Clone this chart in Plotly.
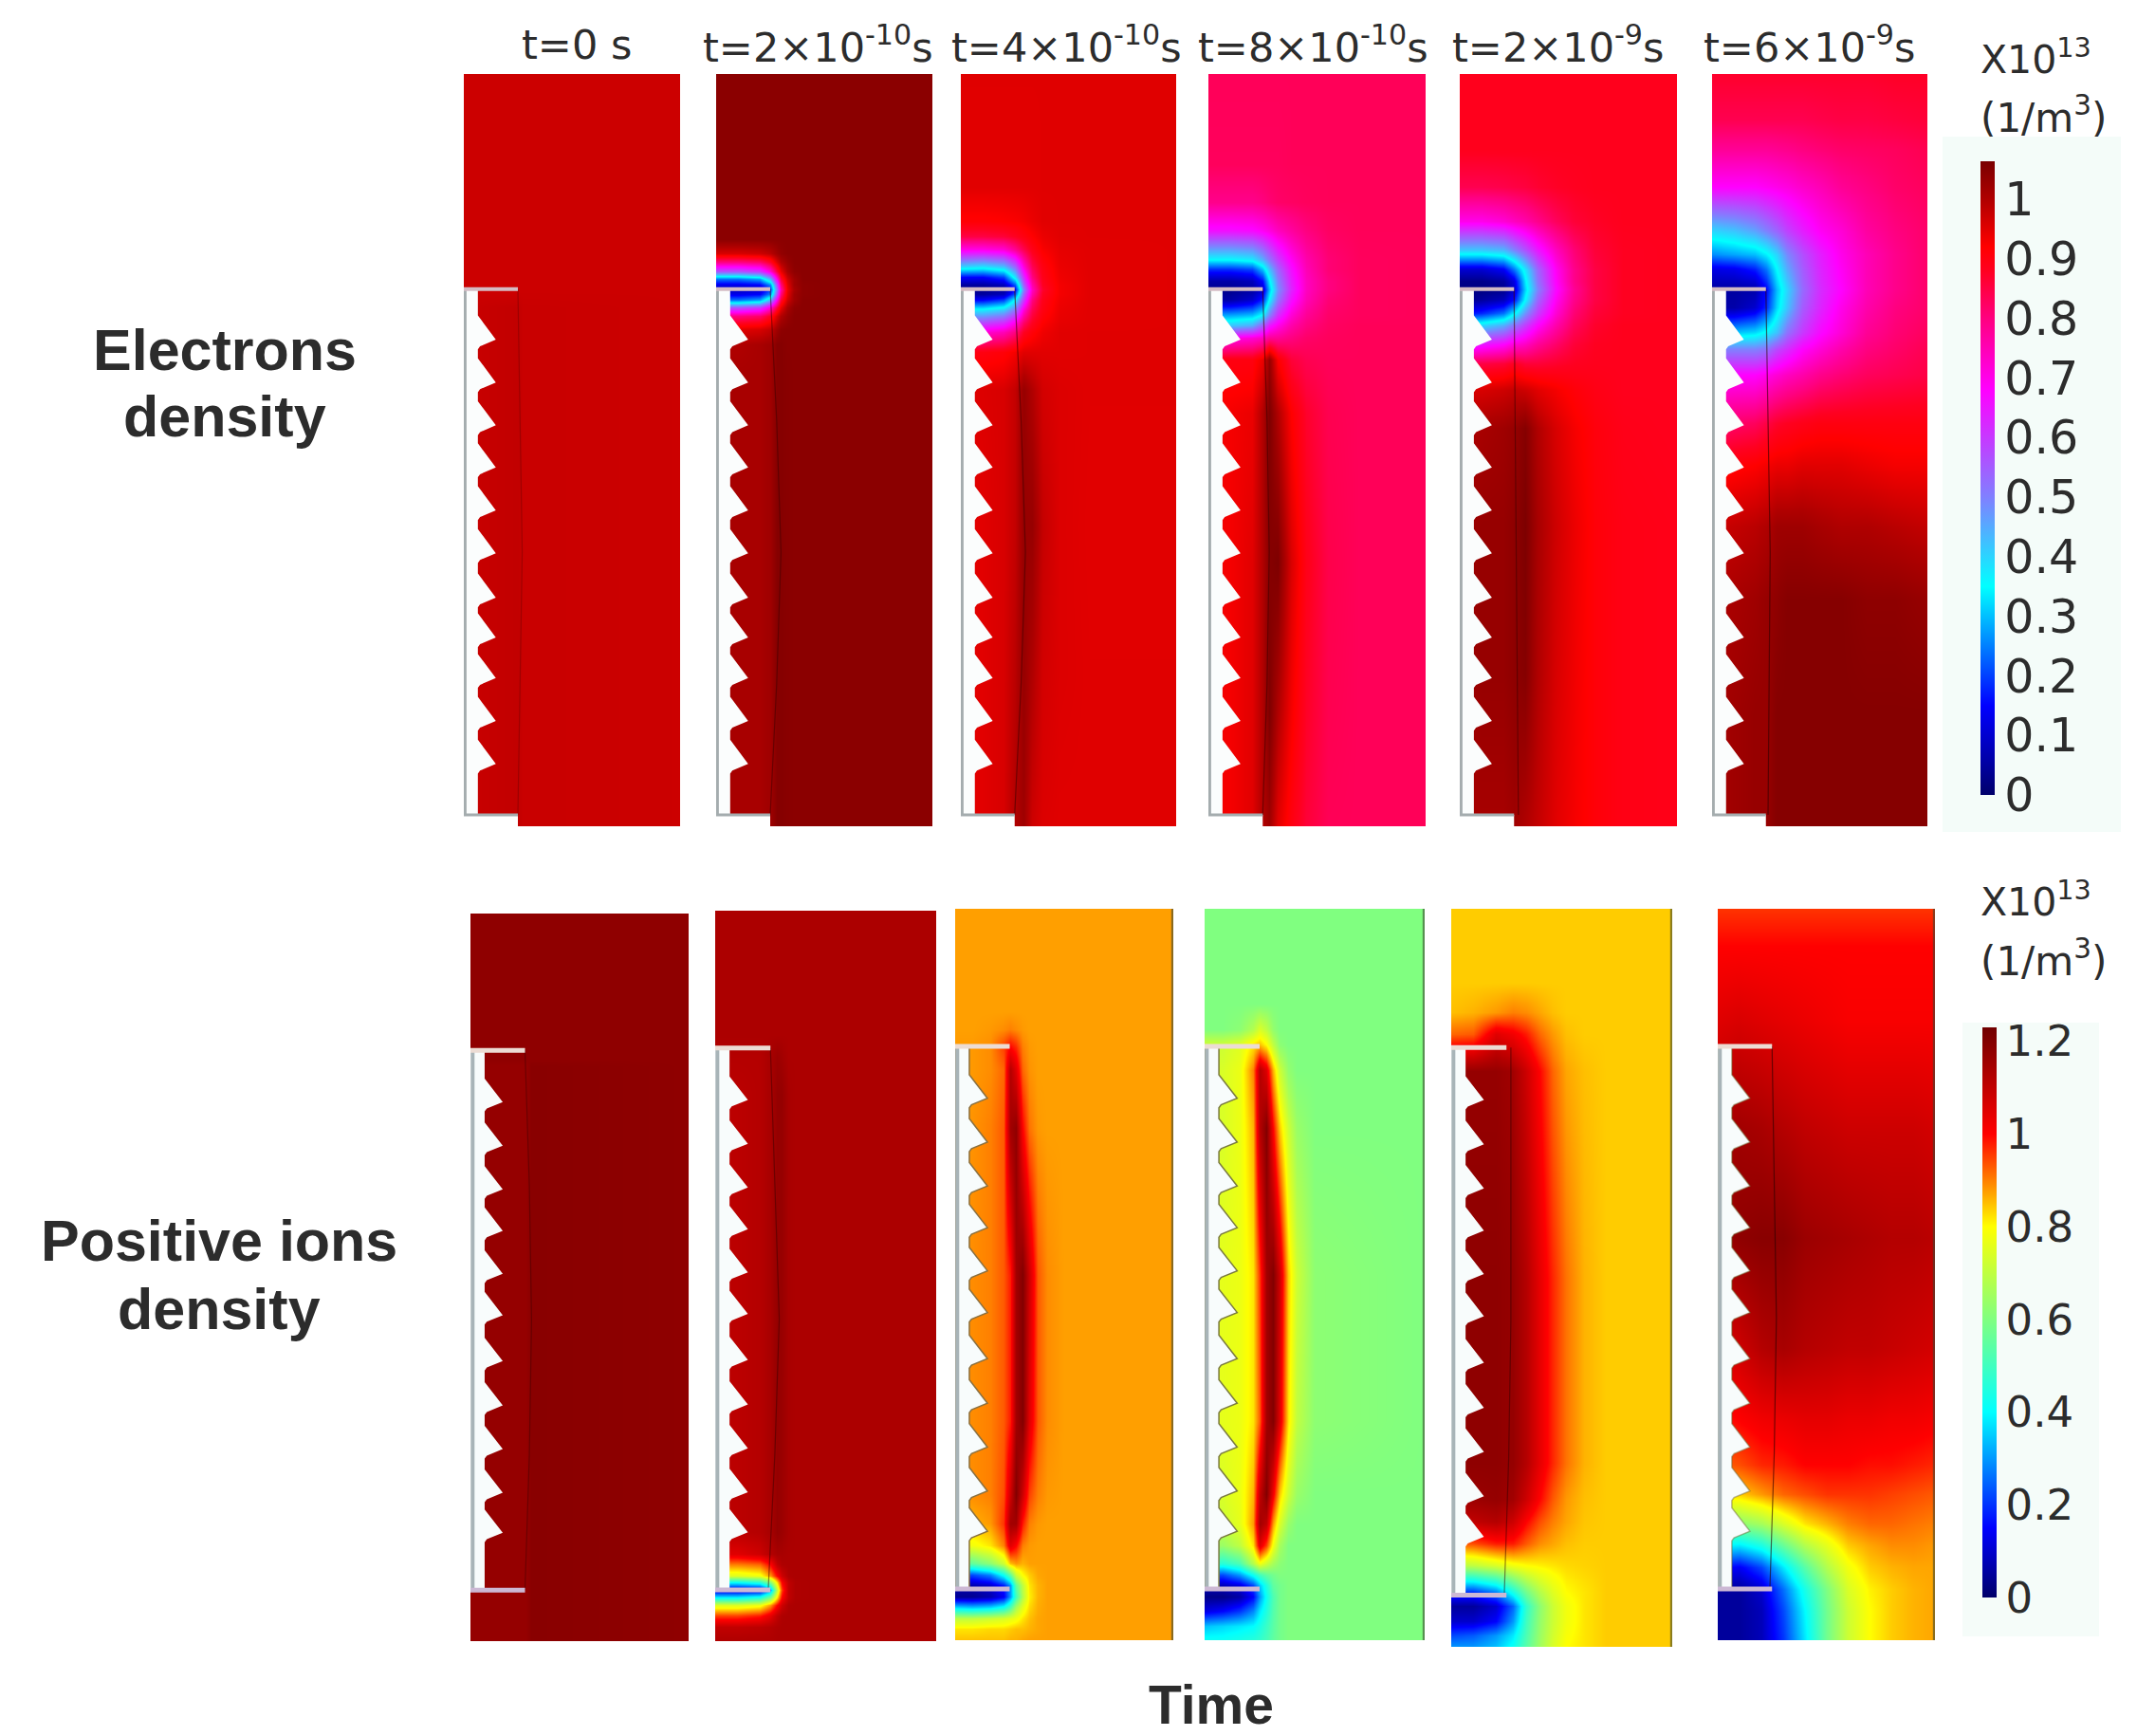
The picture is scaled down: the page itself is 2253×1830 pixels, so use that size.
"""Electron and positive ion density maps along a comb shaped dielectric, six time steps."""

import plotly.graph_objects as go

# Column titles and colour bar ticks
TIME_LABELS = ["t=0 s", "t=2×10<sup>-10</sup>s", "t=4×10<sup>-10</sup>s",
               "t=8×10<sup>-10</sup>s", "t=2×10<sup>-9</sup>s", "t=6×10<sup>-9</sup>s"]
E_TICKS = [0, 0.1, 0.2, 0.3, 0.4, 0.5, 0.6, 0.7, 0.8, 0.9, 1]
E_TICK_TEXT = ["0", "0.1", "0.2", "0.3", "0.4", "0.5", "0.6", "0.7", "0.8", "0.9", "1"]
I_TICKS = [0, 0.2, 0.4, 0.6, 0.8, 1, 1.2]
I_TICK_TEXT = ["0", "0.2", "0.4", "0.6", "0.8", "1", "1.2"]

# Electron density, 1e13 1/m3. x and y are fractions of the panel, y from the top.
E1_X = [0, .25, .27, 1]
E1_Y = [0, .29, .31, 1]
E1_Z = [
    [.972, .972, .972, .972],
    [.972, .972, .972, .972],
    [.975, .982, .975, .972],
    [.975, .982, .975, .972],
]

E2_X = [0, .10, .20, .25, .28, .30, .33, .36, .40, .50, 1]
E2_Y = [0, .22, .238, .25, .262, .272, .28, .286, .292, .30, .31, .322, .339, .36, .40, 1]
E2_Z = [
    [1.044, 1.044, 1.044, 1.044, 1.044, 1.044, 1.044, 1.044, 1.044, 1.044, 1.044],
    [1.044, 1.044, 1.044, 1.044, 1.044, 1.044, 1.044, 1.044, 1.044, 1.044, 1.044],
    [.96, .96, .97, .99, 1.02, 1.035, 1.044, 1.044, 1.044, 1.044, 1.044],
    [.80, .80, .82, .88, .96, 1.0, 1.03, 1.044, 1.044, 1.044, 1.044],
    [.56, .56, .60, .72, .86, .94, 1.01, 1.04, 1.044, 1.044, 1.044],
    [.24, .24, .28, .44, .70, .86, .97, 1.02, 1.044, 1.044, 1.044],
    [.13, .13, .15, .26, .58, .80, .95, 1.02, 1.04, 1.044, 1.044],
    [.08, .08, .10, .20, .52, .76, .94, 1.01, 1.04, 1.044, 1.044],
    [.13, .13, .15, .26, .58, .80, .95, 1.02, 1.04, 1.044, 1.044],
    [.24, .24, .28, .44, .70, .86, .97, 1.02, 1.044, 1.044, 1.044],
    [.56, .56, .60, .72, .86, .94, 1.01, 1.04, 1.044, 1.044, 1.044],
    [.80, .80, .82, .88, .96, 1.0, 1.03, 1.044, 1.044, 1.044, 1.044],
    [.95, .95, .96, .98, 1.02, 1.04, 1.044, 1.044, 1.044, 1.044, 1.044],
    [1.0, 1.0, 1.01, 1.02, 1.05, 1.05, 1.044, 1.044, 1.044, 1.044, 1.044],
    [1.01, 1.01, 1.01, 1.02, 1.05, 1.05, 1.046, 1.044, 1.044, 1.044, 1.044],
    [1.01, 1.01, 1.01, 1.02, 1.05, 1.05, 1.046, 1.044, 1.044, 1.044, 1.044],
]

E3_X = [0, .10, .20, .25, .29, .33, .38, .46, .60, 1]
E3_Y = [0, .15, .195, .215, .233, .255, .27, .28, .286, .292, .30, .314, .33, .343, .37, .42, .6, .8, 1]
E3_Z = [
    [.951, .951, .951, .951, .951, .951, .951, .951, .951, .951],
    [.95, .95, .95, .95, .95, .95, .951, .951, .951, .951],
    [.915, .915, .92, .925, .93, .94, .95, .951, .951, .951],
    [.85, .85, .86, .88, .90, .92, .94, .95, .951, .951],
    [.70, .70, .72, .78, .84, .89, .925, .945, .95, .951],
    [.42, .40, .44, .55, .72, .84, .90, .94, .95, .951],
    [.15, .15, .20, .38, .62, .80, .89, .935, .95, .951],
    [.05, .05, .08, .22, .55, .76, .88, .93, .95, .951],
    [.03, .03, .04, .15, .50, .74, .87, .93, .95, .951],
    [.05, .05, .08, .22, .55, .76, .88, .93, .95, .951],
    [.15, .15, .20, .36, .60, .80, .89, .935, .95, .951],
    [.38, .38, .42, .52, .72, .84, .90, .94, .95, .951],
    [.58, .58, .62, .70, .82, .88, .92, .945, .95, .951],
    [.72, .72, .75, .80, .88, .91, .935, .95, .951, .951],
    [.90, .90, .91, .93, .95, .95, .95, .95, .951, .951],
    [.95, .955, .96, .98, 1.03, 1.0, .965, .955, .951, .951],
    [.945, .95, .96, .98, 1.03, 1.03, .98, .955, .95, .95],
    [.945, .95, .96, .99, 1.03, 1.0, .965, .955, .951, .951],
    [.945, .95, .96, 1.0, 1.02, .97, .955, .951, .951, .951],
]

E4_X = [0, .10, .20, .25, .28, .32, .38, .45, .55, .7, 1]
E4_Y = [0, .12, .17, .208, .246, .26, .275, .286, .30, .32, .334, .35, .38, .45, .65, .85, 1]
E4_Z = [
    [.833, .833, .833, .833, .833, .833, .833, .833, .833, .833, .833],
    [.83, .83, .83, .83, .83, .83, .833, .833, .833, .833, .833],
    [.79, .79, .79, .80, .81, .82, .825, .83, .833, .833, .833],
    [.66, .66, .67, .69, .71, .74, .77, .80, .825, .833, .833],
    [.36, .36, .38, .45, .52, .60, .69, .76, .81, .83, .833],
    [.18, .18, .20, .30, .42, .54, .66, .75, .81, .83, .833],
    [.06, .06, .08, .16, .34, .50, .64, .74, .80, .83, .833],
    [.03, .03, .05, .10, .30, .48, .63, .74, .80, .83, .833],
    [.06, .06, .10, .18, .36, .52, .66, .75, .81, .83, .833],
    [.28, .28, .30, .36, .50, .62, .72, .78, .82, .83, .833],
    [.42, .42, .45, .55, .65, .70, .76, .80, .825, .833, .833],
    [.66, .70, .72, .74, .78, .78, .80, .82, .83, .833, .833],
    [.90, .90, .90, .94, 1.03, .92, .86, .84, .833, .833, .833],
    [.93, .93, .94, 1.0, 1.06, 1.0, .92, .87, .84, .833, .833],
    [.93, .93, .95, 1.0, 1.05, 1.06, .96, .89, .845, .833, .833],
    [.93, .93, .95, 1.0, 1.06, 1.0, .93, .875, .84, .833, .833],
    [.93, .93, .95, 1.0, 1.02, .95, .90, .86, .835, .833, .833],
]

E5_X = [0, .10, .20, .25, .30, .36, .44, .525, .62, .75, 1]
E5_Y = [0, .10, .15, .195, .233, .26, .275, .286, .30, .318, .334, .36, .385, .42, .47, .6, .8, 1]
E5_Z = [
    [.885, .885, .885, .885, .885, .885, .885, .885, .885, .885, .885],
    [.885, .885, .885, .885, .885, .885, .885, .885, .885, .885, .885],
    [.84, .84, .845, .85, .855, .865, .875, .88, .885, .885, .885],
    [.70, .70, .72, .74, .76, .79, .83, .86, .875, .885, .885],
    [.42, .42, .44, .50, .57, .65, .74, .81, .86, .88, .885],
    [.10, .10, .14, .24, .38, .54, .69, .79, .85, .88, .885],
    [.03, .03, .05, .12, .34, .52, .68, .79, .85, .88, .885],
    [.02, .02, .03, .10, .32, .50, .67, .78, .85, .88, .885],
    [.03, .05, .08, .16, .36, .54, .69, .79, .85, .88, .885],
    [.15, .18, .24, .34, .48, .60, .72, .81, .86, .88, .885],
    [.38, .40, .45, .52, .60, .68, .76, .83, .87, .885, .885],
    [.62, .65, .68, .72, .74, .78, .82, .86, .88, .885, .885],
    [.85, .85, .86, .88, .86, .86, .87, .88, .885, .885, .885],
    [.96, .96, .97, .98, .97, .95, .93, .91, .895, .885, .885],
    [1.0, 1.01, 1.02, 1.03, 1.05, 1.0, .96, .93, .905, .89, .885],
    [1.02, 1.03, 1.03, 1.04, 1.06, 1.01, .97, .94, .91, .895, .89],
    [1.02, 1.03, 1.03, 1.04, 1.05, 1.0, .96, .935, .91, .895, .89],
    [1.01, 1.01, 1.01, 1.02, 1.0, .98, .95, .93, .91, .895, .89],
]

E6_X = [0, .10, .20, .25, .30, .35, .42, .50, .60, .72, .85, 1]
E6_Y = [0, .06, .10, .15, .208, .24, .26, .286, .31, .343, .366, .40, .464, .52, .60, .70, .85, 1]
E6_Z = [
    [.87, .87, .87, .87, .87, .87, .87, .87, .87, .87, .875, .875],
    [.84, .84, .84, .84, .84, .84, .84, .845, .85, .85, .855, .86],
    [.78, .78, .78, .78, .785, .79, .80, .81, .82, .825, .83, .84],
    [.68, .68, .68, .69, .70, .71, .73, .75, .78, .80, .82, .83],
    [.40, .42, .46, .50, .54, .59, .64, .69, .72, .77, .80, .82],
    [.26, .28, .30, .34, .40, .49, .57, .64, .70, .75, .79, .82],
    [.12, .13, .17, .24, .35, .45, .55, .63, .69, .75, .79, .82],
    [.05, .05, .06, .15, .30, .40, .53, .62, .68, .75, .79, .82],
    [.06, .06, .10, .18, .32, .42, .55, .63, .70, .76, .80, .82],
    [.30, .30, .32, .36, .42, .52, .60, .67, .72, .78, .81, .83],
    [.50, .50, .50, .52, .58, .62, .68, .72, .76, .80, .82, .84],
    [.68, .68, .68, .70, .72, .74, .76, .79, .81, .83, .84, .85],
    [.80, .82, .83, .85, .87, .88, .89, .90, .90, .90, .90, .90],
    [.90, .91, .92, .93, .94, .94, .95, .95, .95, .94, .93, .93],
    [.97, .98, .99, 1.0, 1.02, 1.02, 1.02, 1.01, 1.0, 1.0, .99, .98],
    [1.0, 1.01, 1.02, 1.03, 1.04, 1.05, 1.05, 1.05, 1.05, 1.04, 1.04, 1.03],
    [1.01, 1.02, 1.03, 1.03, 1.05, 1.05, 1.05, 1.05, 1.05, 1.05, 1.05, 1.05],
    [1.01, 1.02, 1.03, 1.03, 1.05, 1.05, 1.05, 1.05, 1.05, 1.05, 1.05, 1.05],
]

# Positive ion density, 1e13 1/m3
I1_X = [0, .25, .28, 1]
I1_Y = [0, .2, .21, 1]
I1_Z = [
    [1.18, 1.18, 1.18, 1.18],
    [1.18, 1.18, 1.18, 1.18],
    [1.17, 1.17, 1.19, 1.18],
    [1.17, 1.17, 1.19, 1.18],
]

I2_X = [0, .10, .20, .25, .28, .30, .33, .36, .45, 1]
I2_Y = [0, .17, .20, .25, .85, .88, .895, .91, .92, .93, .94, .95, .965, .98, 1]
I2_Z = [
    [1.134, 1.134, 1.134, 1.134, 1.134, 1.134, 1.134, 1.134, 1.134, 1.134],
    [1.134, 1.134, 1.134, 1.134, 1.134, 1.134, 1.134, 1.134, 1.134, 1.134],
    [1.12, 1.12, 1.12, 1.14, 1.16, 1.15, 1.134, 1.134, 1.134, 1.134],
    [1.11, 1.11, 1.12, 1.14, 1.17, 1.17, 1.14, 1.134, 1.134, 1.134],
    [1.11, 1.11, 1.12, 1.14, 1.17, 1.16, 1.14, 1.134, 1.134, 1.134],
    [1.05, 1.05, 1.08, 1.12, 1.14, 1.14, 1.134, 1.134, 1.134, 1.134],
    [.90, .90, .92, 1.0, 1.10, 1.13, 1.134, 1.134, 1.134, 1.134],
    [.75, .75, .78, .88, 1.0, 1.08, 1.13, 1.134, 1.134, 1.134],
    [.40, .40, .45, .60, .82, 1.0, 1.10, 1.13, 1.134, 1.134],
    [.10, .10, .12, .30, .70, .95, 1.10, 1.13, 1.134, 1.134],
    [.40, .40, .45, .60, .82, 1.0, 1.10, 1.13, 1.134, 1.134],
    [.75, .75, .78, .88, 1.0, 1.08, 1.13, 1.134, 1.134, 1.134],
    [.95, .95, .98, 1.04, 1.10, 1.13, 1.134, 1.134, 1.134, 1.134],
    [1.10, 1.10, 1.11, 1.12, 1.13, 1.134, 1.134, 1.134, 1.134, 1.134],
    [1.13, 1.13, 1.13, 1.13, 1.134, 1.134, 1.134, 1.134, 1.134, 1.134],
]

I3_X = [0, .08, .16, .22, .25, .28, .31, .34, .38, .42, .50, 1]
I3_Y = [0, .14, .165, .19, .22, .30, .50, .70, .80, .84, .87, .895, .91, .925, .94, .955, .97, .985, 1]
I3_Z = [
    [.875, .875, .875, .875, .875, .875, .875, .875, .875, .875, .875, .875],
    [.875, .875, .875, .875, .875, .875, .875, .875, .875, .875, .875, .875],
    [.875, .875, .88, .89, .90, .89, .88, .875, .875, .875, .875, .875],
    [.88, .88, .89, .95, 1.0, .97, .90, .88, .875, .875, .875, .875],
    [.88, .88, .89, .92, 1.12, 1.05, .92, .885, .875, .875, .875, .875],
    [.88, .885, .90, .93, 1.15, 1.18, 1.0, .91, .88, .875, .875, .875],
    [.89, .89, .90, .93, .98, 1.15, 1.2, 1.08, .93, .89, .875, .875],
    [.89, .89, .90, .93, .98, 1.15, 1.2, 1.05, .93, .89, .875, .875],
    [.89, .89, .90, .94, 1.08, 1.2, 1.08, .95, .90, .88, .875, .875],
    [.86, .86, .88, .96, 1.15, 1.15, .98, .90, .88, .875, .875, .875],
    [.78, .78, .82, .90, 1.05, 1.0, .90, .88, .875, .875, .875, .875],
    [.55, .55, .62, .72, .85, .88, .86, .875, .875, .875, .875, .875],
    [.22, .22, .28, .42, .55, .72, .80, .84, .87, .875, .875, .875],
    [.07, .07, .10, .18, .30, .55, .70, .82, .86, .875, .875, .875],
    [.04, .04, .07, .14, .30, .50, .68, .81, .86, .875, .875, .875],
    [.36, .34, .36, .42, .52, .66, .76, .83, .865, .875, .875, .875],
    [.70, .70, .72, .74, .76, .78, .82, .85, .87, .875, .875, .875],
    [.82, .82, .83, .83, .84, .85, .85, .86, .87, .875, .875, .875],
    [.85, .85, .85, .85, .86, .86, .87, .875, .875, .875, .875, .875],
]

I4_X = [0, .08, .16, .22, .25, .28, .31, .34, .38, .42, .50, 1]
I4_Y = [0, .13, .165, .185, .22, .30, .50, .70, .80, .84, .87, .895, .91, .925, .94, .96, .98, 1]
I4_Z = [
    [.6, .6, .6, .6, .6, .6, .6, .6, .6, .6, .6, .6],
    [.6, .6, .6, .6, .6, .6, .6, .6, .6, .6, .6, .6],
    [.6, .6, .62, .68, .74, .70, .63, .6, .6, .6, .6, .6],
    [.72, .72, .75, .82, .85, .80, .70, .62, .6, .6, .6, .6],
    [.74, .74, .77, .90, 1.12, 1.05, .86, .72, .63, .6, .6, .6],
    [.74, .74, .77, .86, 1.12, 1.2, 1.0, .84, .72, .64, .6, .6],
    [.76, .76, .77, .82, .96, 1.15, 1.2, 1.08, .84, .72, .62, .6],
    [.76, .76, .77, .82, .93, 1.15, 1.2, 1.05, .82, .70, .62, .6],
    [.74, .74, .77, .86, 1.1, 1.2, 1.02, .84, .72, .64, .6, .6],
    [.72, .72, .76, .88, 1.15, 1.1, .88, .74, .64, .6, .6, .6],
    [.66, .64, .70, .82, 1.05, .95, .78, .66, .6, .6, .6, .6],
    [.50, .46, .52, .68, .78, .72, .66, .62, .6, .6, .6, .6],
    [.22, .22, .30, .42, .50, .55, .58, .6, .6, .6, .6, .6],
    [.08, .08, .12, .22, .35, .45, .55, .58, .6, .6, .6, .6],
    [.03, .03, .06, .15, .30, .42, .52, .58, .6, .6, .6, .6],
    [.12, .15, .20, .28, .38, .45, .53, .58, .6, .6, .6, .6],
    [.34, .36, .38, .40, .44, .49, .54, .58, .6, .6, .6, .6],
    [.42, .42, .44, .46, .48, .51, .55, .58, .6, .6, .6, .6],
]

I5_X = [0, .10, .20, .28, .34, .40, .46, .52, .60, .70, 1]
I5_Y = [0, .10, .14, .17, .22, .50, .75, .80, .83, .86, .89, .925, .945, .965, .985, 1]
I5_Z = [
    [.84, .84, .84, .84, .84, .84, .84, .84, .84, .84, .84],
    [.84, .84, .84, .84, .84, .84, .84, .84, .84, .84, .84],
    [.85, .86, .88, .90, .89, .87, .85, .84, .84, .84, .84],
    [.92, .93, 1.05, 1.02, .98, .92, .88, .85, .84, .84, .84],
    [1.17, 1.17, 1.17, 1.15, 1.08, 1.0, .92, .87, .85, .84, .84],
    [1.18, 1.18, 1.18, 1.17, 1.12, 1.04, .97, .91, .86, .84, .84],
    [1.18, 1.18, 1.18, 1.17, 1.12, 1.04, .97, .91, .86, .84, .84],
    [1.16, 1.16, 1.17, 1.15, 1.08, 1.0, .93, .88, .85, .84, .84],
    [1.08, 1.1, 1.12, 1.08, 1.0, .94, .90, .87, .845, .84, .84],
    [.92, .94, .98, .98, .93, .89, .87, .85, .84, .84, .84],
    [.68, .70, .74, .78, .80, .81, .82, .83, .835, .84, .84],
    [.20, .20, .28, .44, .58, .68, .75, .80, .82, .84, .84],
    [.05, .05, .10, .25, .48, .62, .72, .78, .82, .84, .84],
    [.10, .10, .15, .30, .50, .63, .72, .78, .82, .84, .84],
    [.22, .24, .30, .38, .52, .64, .73, .79, .82, .84, .84],
    [.30, .30, .34, .42, .54, .65, .74, .80, .82, .84, .84],
]

I6_X = [0, .1, .2, .3, .4, .5, .6, .7, .8, .9, 1]
I6_Y = [0, .05, .15, .3, .45, .6, .7, .76, .8, .84, .87, .9, .93, .96, 1]
I6_Z = [
    [.96, .96, .96, .96, .96, .96, .96, .96, .96, .96, .96],
    [1.0, 1.0, 1.0, 1.0, 1.0, 1.0, 1.0, 1.0, 1.0, 1.0, 1.0],
    [1.05, 1.06, 1.05, 1.04, 1.03, 1.02, 1.01, 1.01, 1.01, 1.01, 1.01],
    [1.13, 1.15, 1.14, 1.12, 1.10, 1.09, 1.08, 1.08, 1.08, 1.08, 1.07],
    [1.15, 1.18, 1.19, 1.19, 1.16, 1.15, 1.14, 1.13, 1.12, 1.12, 1.11],
    [1.06, 1.08, 1.12, 1.14, 1.12, 1.11, 1.10, 1.10, 1.09, 1.08, 1.07],
    [.98, 1.0, 1.02, 1.03, 1.04, 1.04, 1.03, 1.03, 1.02, 1.02, 1.01],
    [.92, .94, .97, .98, 1.0, 1.0, 1.0, .99, .99, .98, .97],
    [.82, .84, .88, .92, .94, .96, .96, .96, .95, .94, .93],
    [.62, .62, .66, .74, .82, .86, .90, .92, .92, .91, .90],
    [.40, .38, .44, .56, .68, .76, .84, .87, .89, .89, .88],
    [.16, .14, .22, .38, .54, .68, .78, .84, .86, .87, .87],
    [.05, .05, .10, .26, .44, .60, .74, .81, .84, .86, .87],
    [.05, .05, .08, .22, .40, .58, .72, .80, .84, .86, .87],
    [.05, .05, .08, .20, .38, .58, .72, .80, .84, .86, .87],
]

# Comb geometry, panel fractions
E_TIPS = [.353, .410, .467, .523, .580, .637, .696, .749, .803, .860, .917]
E_ELECTRODE = .286
E_FLOOR = .985
I_TIPS = [.259, .319, .379, .436, .495, .552, .615, .676, .736, .796, .851]
I_ELECTRODE_TOP = .188
I_ELECTRODE_BOTTOM = .93

# Thin barrier line, x at each of the heights in LINE_FRAC
LINE_FRAC = [0, .25, .5, .75, 1]
E_LINES = [
    [.25, .26, .27, .26, .25],
    [.25, .28, .30, .28, .25],
    [.25, .28, .30, .28, .25],
    [.25, .27, .28, .27, .25],
    [.25, .255, .26, .265, .27],
    [.25, .26, .27, .265, .26],
]
I_LINES = [
    [.25, .27, .28, .27, .25],
    [.25, .27, .29, .27, .24],
    [.25, .28, .30, .28, .25],
    [.25, .29, .30, .29, .25],
    [.27, .27, .27, .26, .24],
    [.25, .26, .27, .26, .24],
]
E_LINE_COLORS = ["rgba(90,0,0,.35)", "rgba(60,0,0,.5)", "rgba(70,0,0,.6)",
                 "rgba(70,0,0,.6)", "rgba(70,0,0,.6)", "rgba(50,0,0,.6)"]
I_LINE_COLORS = ["rgba(60,0,0,.45)", "rgba(60,0,0,.5)", "rgba(0,0,0,0)",
                 "rgba(0,0,0,0)", "rgba(50,0,0,.5)", "rgba(40,0,0,.6)"]

# Panel rectangles in page pixels
E_LEFT = [489, 755, 1013, 1274, 1539, 1805]
E_RIGHT = [717, 983, 1240, 1503, 1768, 2032]
E_TOP = [78, 78, 78, 78, 78, 78]
E_BOTTOM = [871, 871, 871, 871, 871, 871]
I_LEFT = [496, 754, 1007, 1270, 1530, 1811]
I_RIGHT = [726, 987, 1237, 1502, 1763, 2040]
I_TOP = [963, 960, 958, 958, 958, 958]
I_BOTTOM = [1730, 1730, 1729, 1729, 1736, 1729]
I_COMB_EDGE = ["rgba(0,0,0,0)", "rgba(0,0,0,0)", "#8a7040", "#7a7a40", "rgba(0,0,0,0)", "rgba(120,110,60,.5)"]

E_COLORSCALE_STOPS = [
    (0, "#00006a"), (.05, "#0000a0"), (.15, "#0000ff"), (.35, "#00ffff"), (.5, "#8080ff"),
    (.68, "#ff00ff"), (.8, "#ff0080"), (.88, "#ff0020"), (.92, "#ff0000"), (1.0, "#b00000"), (1.064, "#7a0000"),
]
I_COLORSCALE_STOPS = [
    (0, "#00006a"), (.15, "#0000ff"), (.4, "#00ffff"), (.6, "#80ff80"), (.8, "#ffff00"),
    (1.0, "#ff0000"), (1.23, "#700000"),
]
E_MAX = 1.064
I_MAX = 1.23

PAGE_W = 2237
PAGE_H = 1822
OFFSET = 8
TEXT_COLOR = "#2c2c2c"


def px(x):
    return (x - OFFSET) / PAGE_W


def py(y):
    return 1 - (y - OFFSET) / PAGE_H


def comb_outline(tips, top, bottom):
    xs, ys = [0, .065], [top, top]
    for tip in tips:
        xs += [.065, .148, .075, .065]
        ys += [tip - .032, tip, tip + .009, tip + .013]
    xs += [.065, 0, 0]
    ys += [bottom, bottom, top]
    return xs, ys


fig = go.Figure()
layout_axes = {}


def add_panel(n, left, right, top, bottom, x, y, z, coloraxis):
    suffix = "" if n == 1 else str(n)
    layout_axes["xaxis" + suffix] = dict(domain=[px(left), px(right)], range=[0, 1], visible=False,
                                         anchor="y" + suffix, fixedrange=True)
    layout_axes["yaxis" + suffix] = dict(domain=[py(bottom), py(top)], range=[1, 0], visible=False,
                                         anchor="x" + suffix, fixedrange=True)
    fig.add_trace(go.Heatmap(x=x, y=y, z=z, coloraxis=coloraxis, zsmooth="best", hoverinfo="skip",
                             xaxis="x" + suffix, yaxis="y" + suffix))
    return suffix


def add_line(suffix, x, y, color, width):
    fig.add_trace(go.Scatter(x=x, y=y, mode="lines", line=dict(color=color, width=width), hoverinfo="skip",
                             showlegend=False, xaxis="x" + suffix, yaxis="y" + suffix))


E_PANELS = [(E1_X, E1_Y, E1_Z), (E2_X, E2_Y, E2_Z), (E3_X, E3_Y, E3_Z),
            (E4_X, E4_Y, E4_Z), (E5_X, E5_Y, E5_Z), (E6_X, E6_Y, E6_Z)]
I_PANELS = [(I1_X, I1_Y, I1_Z), (I2_X, I2_Y, I2_Z), (I3_X, I3_Y, I3_Z),
            (I4_X, I4_Y, I4_Z), (I5_X, I5_Y, I5_Z), (I6_X, I6_Y, I6_Z)]

# top row
for i, (x, y, z) in enumerate(E_PANELS):
    s = add_panel(i + 1, E_LEFT[i], E_RIGHT[i], E_TOP[i], E_BOTTOM[i], x, y, z, "coloraxis")
    line_y = [E_ELECTRODE + f * (E_FLOOR - E_ELECTRODE) for f in LINE_FRAC]
    add_line(s, E_LINES[i], line_y, E_LINE_COLORS[i], 1.2)
    cx, cy = comb_outline(E_TIPS, E_ELECTRODE, E_FLOOR)
    fig.add_trace(go.Scatter(x=cx, y=cy, mode="lines", fill="toself", fillcolor="#fbfdfd",
                             line=dict(color="rgba(0,0,0,0)", width=0), hoverinfo="skip", showlegend=False,
                             xaxis="x" + s, yaxis="y" + s))
    # white step under the structure
    fig.add_trace(go.Scatter(x=[0, .25, .25, 0, 0], y=[E_FLOOR, E_FLOOR, 1, 1, E_FLOOR], mode="lines", fill="toself",
                             fillcolor="#ffffff", line=dict(color="rgba(0,0,0,0)", width=0), hoverinfo="skip",
                             showlegend=False, xaxis="x" + s, yaxis="y" + s))
    add_line(s, [.006, .006, .25], [E_ELECTRODE, E_FLOOR, E_FLOOR], "#a4acae", 3)
    add_line(s, [0, .25], [E_ELECTRODE, E_ELECTRODE], "#d4bcc4", 4)

# bottom row
for i, (x, y, z) in enumerate(I_PANELS):
    s = add_panel(i + 7, I_LEFT[i], I_RIGHT[i], I_TOP[i], I_BOTTOM[i], x, y, z, "coloraxis2")
    line_y = [I_ELECTRODE_TOP + f * (I_ELECTRODE_BOTTOM - I_ELECTRODE_TOP) for f in LINE_FRAC]
    add_line(s, I_LINES[i], line_y, I_LINE_COLORS[i], 1.2)
    cx, cy = comb_outline(I_TIPS, I_ELECTRODE_TOP, I_ELECTRODE_BOTTOM)
    fig.add_trace(go.Scatter(x=cx, y=cy, mode="lines", fill="toself", fillcolor="#f8fcfc",
                             line=dict(color=I_COMB_EDGE[i], width=1.5), hoverinfo="skip", showlegend=False,
                             xaxis="x" + s, yaxis="y" + s))
    add_line(s, [.01, .01], [I_ELECTRODE_TOP, I_ELECTRODE_BOTTOM], "#a8b4b8", 4)
    add_line(s, [0, .25], [I_ELECTRODE_TOP, I_ELECTRODE_TOP], "#ecdcd4", 5)
    add_line(s, [0, .25], [I_ELECTRODE_BOTTOM, I_ELECTRODE_BOTTOM], "#ccb8d4", 5)
    if i >= 2:
        add_line(s, [.996, .996], [0, 1], "rgba(60,70,50,.6)", 2.5)

annotations = []


def label(text, x, y, size, family="DejaVu Sans", anchor="center", bold=False):
    if bold:
        text = "<b>" + text + "</b>"
    annotations.append(dict(text=text, x=px(x), y=py(y), xref="paper", yref="paper", xanchor=anchor, yanchor="middle",
                            showarrow=False, font=dict(size=size, family=family, color=TEXT_COLOR)))


for t, cx in zip(TIME_LABELS, [608, 862, 1124, 1384, 1642, 1907]):
    label(t, cx, 47, 43)
label("Electrons", 237, 369, 61, "Liberation Sans", bold=True)
label("density", 237, 439, 61, "Liberation Sans", bold=True)
label("Positive ions", 231, 1308, 61, "Liberation Sans", bold=True)
label("density", 231, 1380, 61, "Liberation Sans", bold=True)
label("Time", 1277, 1797, 57, "Liberation Sans", bold=True)
label("X10<sup>13</sup>", 2086, 60, 41, anchor="left")
label("(1/m<sup>3</sup>)", 2086, 122, 42, anchor="left")
label("X10<sup>13</sup>", 2086, 948, 41, anchor="left")
label("(1/m<sup>3</sup>)", 2086, 1010, 42, anchor="left")


def scale_from(stops, vmax):
    return [[v / vmax, c] for v, c in stops]


fig.update_layout(
    width=PAGE_W,
    height=PAGE_H,
    margin=dict(l=0, r=0, t=0, b=0),
    paper_bgcolor="white",
    plot_bgcolor="white",
    showlegend=False,
    annotations=annotations,
    shapes=[
        dict(type="rect", xref="paper", yref="paper", x0=px(2048), x1=px(2236), y0=py(877), y1=py(144),
             fillcolor="#f4fcf9", line_width=0, layer="below"),
        dict(type="rect", xref="paper", yref="paper", x0=px(2069), x1=px(2213), y0=py(1725), y1=py(1078),
             fillcolor="#f5fcf9", line_width=0, layer="below"),
    ],
    coloraxis=dict(
        cmin=0, cmax=E_MAX, colorscale=scale_from(E_COLORSCALE_STOPS, E_MAX),
        colorbar=dict(x=px(2088), xanchor="left", y=py(170), yanchor="top", len=668, lenmode="pixels",
                      thickness=15, thicknessmode="pixels", xpad=0, ypad=0, outlinewidth=0, ticks="", ticklen=0,
                      tickvals=E_TICKS, ticktext=E_TICK_TEXT,
                      tickfont=dict(size=49, family="DejaVu Sans", color=TEXT_COLOR)),
    ),
    coloraxis2=dict(
        cmin=0, cmax=I_MAX, colorscale=scale_from(I_COLORSCALE_STOPS, I_MAX),
        colorbar=dict(x=px(2090), xanchor="left", y=py(1083), yanchor="top", len=601, lenmode="pixels",
                      thickness=15, thicknessmode="pixels", xpad=0, ypad=0, outlinewidth=0, ticks="", ticklen=0,
                      tickvals=I_TICKS, ticktext=I_TICK_TEXT,
                      tickfont=dict(size=45, family="DejaVu Sans", color=TEXT_COLOR)),
    ),
    **layout_axes,
)

fig.write_html("out.html")
